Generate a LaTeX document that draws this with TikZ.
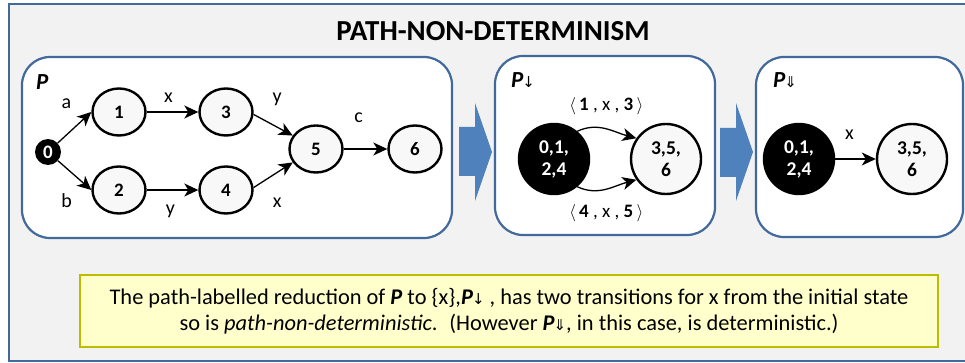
\documentclass[tikz,border=0pt]{standalone}
\usepackage{fontspec}
\setmainfont{Carlito}
\newfontfamily\arrowfont{DejaVu Sans}
\usetikzlibrary{arrows.meta, positioning, shapes.geometric}
\definecolor{cframe}{HTML}{41699C}
\definecolor{cback}{HTML}{F2F2F2}
\definecolor{cblock}{HTML}{4F81BD}
\definecolor{cnote}{HTML}{FFFFCC}
\definecolor{cnoteline}{HTML}{BDBD00}
\definecolor{cstate}{HTML}{F8F8F8}
\tikzset{
  every picture/.style={font=\fontsize{17}{20}\selectfont},
  panel/.style={draw=cframe, fill=white, line width=2.2pt, rounded corners=28pt, inner sep=0pt},
  state/.style={ellipse, draw, fill=cstate, line width=2.4pt, minimum width=53pt, minimum height=47pt, inner sep=0pt, font=\fontsize{19}{20}\selectfont\bfseries},
  init/.style={circle, fill=black, text=white, minimum size=26pt, inner sep=0pt, font=\fontsize{19}{20}\selectfont\bfseries},
  bigstate/.style={circle, draw, line width=2.4pt, fill=cstate, minimum size=70pt, inner sep=0pt, align=center, font=\fontsize{19.5}{22}\selectfont\bfseries},
  biginit/.style={bigstate, fill=black, text=white},
  trans/.style={-{Stealth[length=14pt, width=13pt, inset=4pt]}, line width=1.3pt},
  lbl/.style={font=\fontsize{20}{20}\selectfont, inner sep=0pt},
  ptitle/.style={font=\fontsize{23}{24}\selectfont\bfseries\itshape, anchor=west, inner sep=0pt},
  block/.style={fill=cblock},
}
\newcommand{\darr}{{\arrowfont\mdseries\upshape\fontsize{15}{20}\selectfont\kern-1pt↓}}
\newcommand{\Darr}{{\arrowfont\mdseries\upshape\fontsize{15}{20}\selectfont\kern-1pt⇓}}
\newcommand{\triple}[3]{$\langle$\,\textbf{#1} , #2 , \textbf{#3}\,$\rangle$}

\begin{document}
\begin{tikzpicture}[x=1pt, y=-1pt]
  \useasboundingbox (0,0) rectangle (965,363);
  \clip (0,0) rectangle (965,363);
  % outer frame
  \draw[draw=cframe, fill=cback, line width=2.5pt] (9,4) rectangle (990,361);
  \node[font=\fontsize{29}{30}\selectfont\bfseries] (title) at (493,31) {PATH-NON-DETERMINISM};
  % the three panels
  \node[panel, minimum width=430pt, minimum height=181pt] (boxP) at (237,147.5) {};
  \node[panel, minimum width=220pt, minimum height=179pt] (boxR) at (605,145.5) {};
  \node[panel, minimum width=207pt, minimum height=180pt] (boxD) at (859.5,147) {};
  \node[ptitle] (tP) at (36,82) {P};
  \node[ptitle] (tR) at (511,80) {P\darr};
  \node[ptitle] (tD) at (773,80) {P\Darr};
  % block arrows
  \fill[block] (459,127) -- (475,127) -- (475,103) -- (492,152) -- (475,201) -- (475,176) -- (459,176) -- cycle;
  \fill[block] (720,128) -- (736,128) -- (736,103) -- (753,152) -- (736,201) -- (736,177) -- (720,177) -- cycle;
  % P
  \node[init] (s0) at (48,152) {0};
  \node[state] (s1) at (119,112) {1};
  \node[state] (s3) at (226,112) {3};
  \node[state] (s2) at (119,190) {2};
  \node[state] (s4) at (226,190) {4};
  \node[state] (s5) at (316,149) {5};
  \node[state] (s6) at (415,149) {6};
  \draw[trans] (s0) -- node[lbl, xshift=-8pt, yshift=24pt] {a} (s1.west);
  \draw[trans] (s0) -- node[lbl, xshift=-8pt, yshift=-25pt] {b} (s2.west);
  \draw[trans] (s1) -- node[lbl, xshift=-4pt, yshift=14pt] {x} (s3);
  \draw[trans] (s2) -- node[lbl, xshift=-2pt, yshift=-21pt] {y} (s4);
  \draw[trans] (s3.-5) -- node[lbl, xshift=4pt, yshift=26pt] {y} (s5.150);
  \draw[trans] (s4.5) -- node[lbl, xshift=4pt, yshift=-28pt] {x} (s5.210);
  \draw[trans] (s5) -- node[lbl, xshift=-7pt, yshift=31pt] {c} (s6);
  % P reduced, path labelled
  \node[biginit] (r0) at (554,159) {0,1,\\2,4};
  \node[bigstate] (r1) at (666,159) {3,5,\\6};
  \draw[trans] (r0.50) to[out=25, in=165] node[lbl, font=\fontsize{19}{20}\selectfont, yshift=23pt] {\triple{1}{x}{3}} (r1.145);
  \draw[trans] (r0.-50) to[out=-25, in=-165] node[lbl, font=\fontsize{19}{20}\selectfont, yshift=-24pt] {\triple{4}{x}{5}} (r1.-145);
  % P reduced
  \node[biginit] (d0) at (799,159) {0,1,\\2,4};
  \node[bigstate] (d1) at (912,159) {3,5,\\6};
  \draw[trans] (d0) -- node[lbl, xshift=-6pt, yshift=24pt] {x} (d1);
  % note
  \node[draw=cnoteline, fill=cnote, line width=2.6pt, minimum width=858pt, minimum height=72pt, align=center,
        font=\fontsize{22.4}{26}\selectfont] (note) at (509,311)
    {The path-labelled reduction of \textbf{\textit{P}} to \{x\},\textbf{\textit{P}}\darr\ , has two transitions for x from the initial state\\
     so is \textit{path-non-deterministic}.~ (However \textbf{\textit{P}}\Darr, in this case, is deterministic.)};
\end{tikzpicture}
\end{document}
